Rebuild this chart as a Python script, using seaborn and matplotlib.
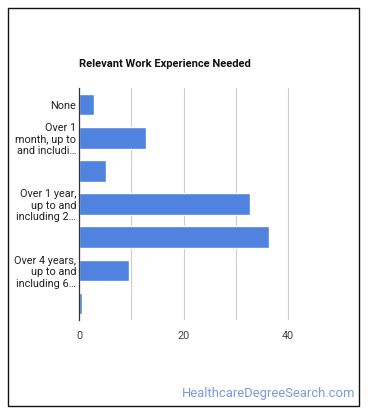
"""
Relevant work experience needed - horizontal bar chart.
Saves out.png (370x417).
"""

import matplotlib
matplotlib.use("Agg")  # headless-safe backend
import matplotlib.pyplot as plt
import pandas as pd
import seaborn as sns
from matplotlib.patches import Rectangle

# data
categories = [
    "None",
    "Over 1 month, up to and including 3 months",
    "Over 3 months, up to and including 6 months",
    "Over 1 year, up to and including 2 years",
    "Over 2 years, up to and including 4 years",
    "Over 4 years, up to and including 6 years",
    "Over 6 years, up to and including 8 years",
]
percentages = [2.9, 12.8, 5.2, 32.7, 36.3, 9.6, 0.6]
tick_labels = [
    "None",
    "Over 1\nmonth, up to\nand includi\u2026",
    "",
    "Over 1 year,\nup to and\nincluding 2\u2026",
    "",
    "Over 4 years,\nup to and\nincluding 6\u2026",
    "",
]

df = pd.DataFrame({"category": categories, "pct": percentages})

sns.set_style("white")
plt.rcParams["font.family"] = ["Roboto", "DejaVu Sans"]

fig = plt.figure(figsize=(3.70, 4.17), dpi=100)
ax = fig.add_axes([0.2135, 0.2326, 0.707, 0.556])

sns.barplot(data=df, x="pct", y="category", color="#5083e0", saturation=1,
            width=0.65, ax=ax)

ax.set_xlim(0, 50)
ax.set_xticks([0, 10, 20, 30, 40], labels=["0", "", "20", "", "40"])
ax.set_yticks(range(len(categories)), labels=tick_labels)
ax.tick_params(axis="both", length=0, labelsize=7.8, colors="#222222")
ax.tick_params(axis="x", pad=8, colors="#444444")
ax.tick_params(axis="y", pad=2)
for lbl in ax.get_yticklabels():
    lbl.set_linespacing(1.2)

ax.grid(axis="x", color="#cccccc", linewidth=0.8)
ax.set_axisbelow(True)
ax.set_xlabel("")
ax.set_ylabel("")
for side in ["top", "right", "bottom"]:
    ax.spines[side].set_visible(False)
ax.spines["left"].set_color("#333333")
ax.spines["left"].set_linewidth(0.9)

fig.text(79 / 370, 1 - 64 / 417, "Relevant Work Experience Needed",
         fontsize=8.0, fontweight="bold", color="#111111", va="center")

fig.text(355 / 370, 1 - 394 / 417, "HealthcareDegreeSearch.com",
         fontsize=9.4, color="#7a9ae0", ha="right", va="center")

# outer frame
fig.patches.append(Rectangle((8 / 370, 1 - 406 / 417), 351 / 370, 398 / 417,
                             transform=fig.transFigure, fill=False,
                             edgecolor="#111111", linewidth=1.0))

plt.savefig("out.png", dpi=100)
plt.close()
